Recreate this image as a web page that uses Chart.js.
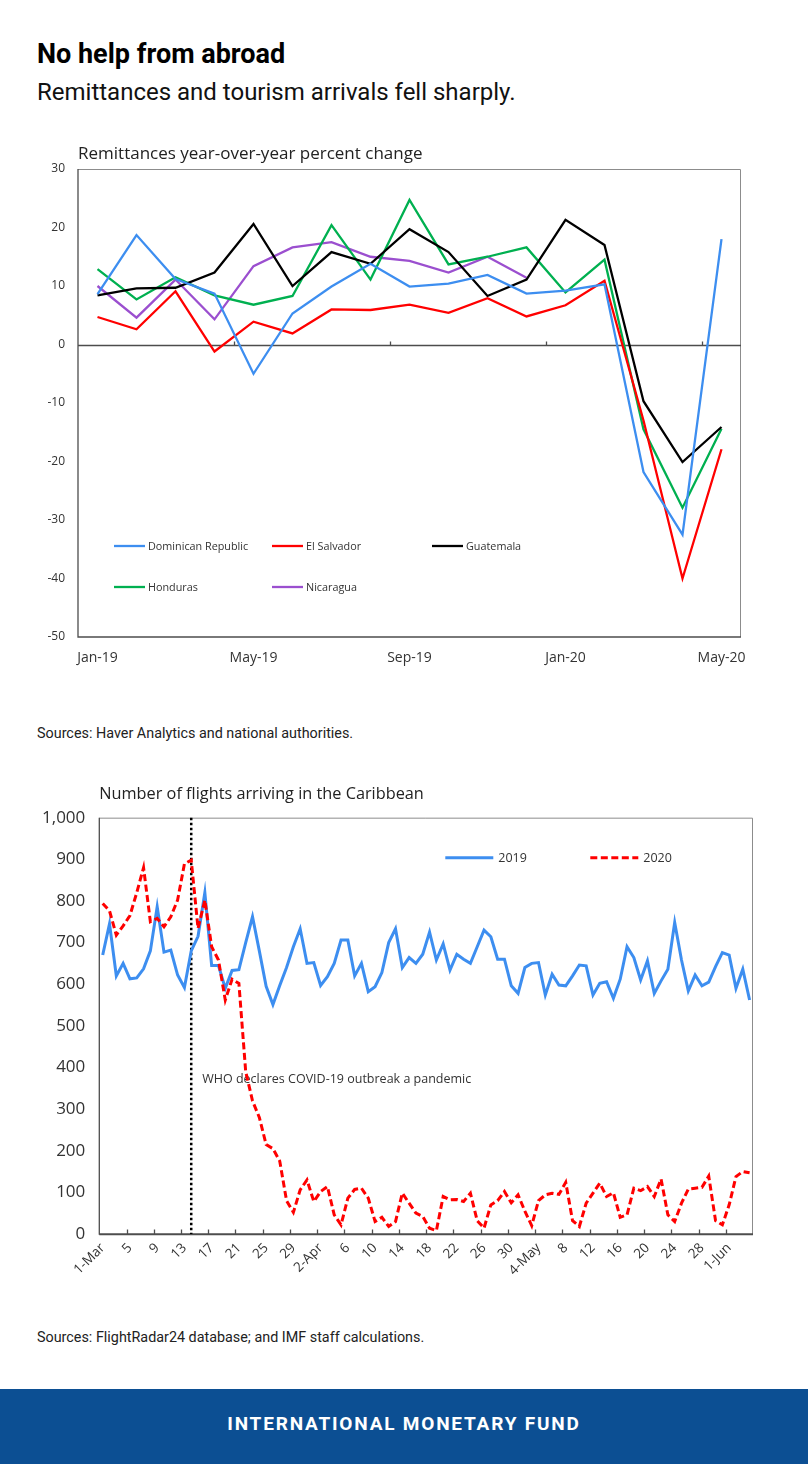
<!DOCTYPE html>
<html>
<head>
<meta charset="utf-8">
<title>No help from abroad</title>
<script src="https://cdn.jsdelivr.net/npm/chart.js@4.4.1/dist/chart.umd.min.js"></script>
<style>
  body { margin: 0; background: #fff; }
  #page { position: relative; width: 808px; height: 1464px; overflow: hidden; font-family: Roboto, sans-serif; }
  .hed { position: absolute; left: 37px; top: 41px; font: 700 27px/1 Roboto, sans-serif; color: #000; white-space: nowrap; }
  .dek { position: absolute; left: 37px; top: 80px; font: 400 24px/1 Roboto, sans-serif; color: #111; white-space: nowrap; }
  .src { position: absolute; left: 37px; font: 15.5px/20px Roboto, sans-serif; color: #222; white-space: nowrap; transform-origin: 0 50%; }
  #chart1 { position: absolute; left: 0; top: 130px; }
  #chart2 { position: absolute; left: 0; top: 770px; }
  .band { position: absolute; left: 0; top: 1389px; width: 808px; height: 75px; background: #0c4f93; }
  .band span { position: absolute; left: 0; width: 808px; top: 25px; text-align: center; color: #fff; font: 700 19px/1 Roboto, sans-serif; letter-spacing: 1.8px; }
</style>
</head>
<body>
<div id="page">
  <div class="hed">No help from abroad</div>
  <div class="dek">Remittances and tourism arrivals fell sharply.</div>
  <canvas id="chart1" width="808" height="560"></canvas>
  <div class="src" id="src1" style="top:723px">Sources: Haver Analytics and national authorities.</div>
  <canvas id="chart2" width="808" height="540"></canvas>
  <div class="src" id="src2" style="top:1327px">Sources: FlightRadar24 database; and IMF staff calculations.</div>
  <div class="band"><span>INTERNATIONAL MONETARY FUND</span></div>
</div>
<script>
// --- remittances, y/y percent change
const months = ['Jan-19', 'Feb-19', 'Mar-19', 'Apr-19', 'May-19', 'Jun-19', 'Jul-19', 'Aug-19', 'Sep-19',
  'Oct-19', 'Nov-19', 'Dec-19', 'Jan-20', 'Feb-20', 'Mar-20', 'Apr-20', 'May-20'];
const dominicanRepublic = [8.6, 18.7, 11.2, 8.7, -5.0, 5.3, 9.9, 13.8, 9.9, 10.4, 11.9, 8.7, 9.2, 10.3, -21.8, -32.5, 18.0];
const elSalvador = [4.7, 2.6, 9.1, -1.2, 3.9, 1.9, 6.0, 5.9, 6.8, 5.4, 7.9, 4.8, 6.7, 10.9, -13.0, -40.0, -17.9];
const guatemala = [8.4, 9.6, 9.7, 12.3, 20.6, 10.0, 15.8, 13.8, 19.7, 15.8, 8.3, 11.1, 21.3, 17.0, -9.7, -20.1, -14.1];
const honduras = [12.9, 7.7, 11.5, 8.4, 6.8, 8.3, 20.4, 11.1, 24.7, 13.7, 15.0, 16.6, 8.9, 14.5, -14.5, -27.9, -14.4];
const nicaragua = [10.0, 4.6, 11.1, 4.3, 13.4, 16.6, 17.5, 15.0, 14.3, 12.3, 15.0, 11.4, null, null, null, null, null];
const remitMin = -50, remitMax = 30, remitStep = 10;

// --- daily flights arriving in the Caribbean, 1 Mar - 4 Jun
const flightMonths = [['Mar', 31], ['Apr', 30], ['May', 31], ['Jun', 4]];
const flightDates = [];
flightMonths.forEach(([m, n]) => { for (let d = 1; d <= n; d++) flightDates.push(d + '-' + m); });
const flights2019 = [
  670, 745, 620, 650, 613, 615, 637, 680, 786, 677, 682, 622, 592, 680, 715, 820, 645, 645, 590, 633,
  635, 700, 762, 680, 595, 551, 597, 640, 690, 733, 650, 652, 597, 618, 650, 706, 706, 620, 650, 582,
  594, 628, 700, 733, 640, 664, 650, 672, 725, 658, 697, 634, 672, 660, 650, 690, 730, 714, 660, 660,
  596, 578, 640, 650, 652, 574, 624, 598, 596, 620, 646, 644, 574, 602, 606, 566, 612, 690, 664, 610,
  656, 578, 608, 636, 748, 658, 584, 622, 596, 605, 642, 676, 670, 590, 636, 562];
const flights2020 = [
  794, 776, 718, 740, 765, 820, 880, 750, 758, 738, 762, 802, 889, 898, 734, 802, 690, 658, 562, 612,
  602, 390, 320, 280, 215, 205, 175, 80, 52, 106, 130, 78, 102, 114, 46, 22, 86, 107, 110, 86,
  30, 40, 18, 30, 98, 74, 50, 42, 14, 8, 90, 82, 83, 78, 98, 32, 14, 70, 80, 102,
  75, 94, 55, 20, 80, 94, 98, 95, 124, 32, 18, 74, 98, 122, 90, 99, 40, 46, 110, 104,
  114, 90, 132, 46, 30, 74, 108, 110, 112, 139, 32, 22, 70, 138, 150, 147];
const whoIndex = 13;
const whoText = 'WHO declares COVID-19 outbreak a pandemic';

// squeeze the source notes to the narrow width of the original
[['src1', 316], ['src2', 387]].forEach(([id, w]) => {
  const el = document.getElementById(id);
  el.style.transform = 'scaleX(' + (w / el.offsetWidth) + ')';
});

Chart.defaults.font.family = "'Open Sans', sans-serif";
Chart.defaults.color = '#333';

// box round the plot, axis line and Excel-style tick marks between categories
const framePlugin = {
  id: 'frame',
  beforeDatasetsDraw(chart, args, opts) {
    const {ctx, chartArea: a, scales: {x, y}} = chart;
    ctx.save();
    ctx.lineWidth = 1;
    ctx.strokeStyle = opts.boxColor;
    ctx.beginPath();
    ctx.moveTo(a.left, a.top + 0.5); ctx.lineTo(a.right - 0.5, a.top + 0.5); ctx.lineTo(a.right - 0.5, a.bottom);
    ctx.stroke();
    ctx.strokeStyle = opts.axisColor;
    ctx.lineWidth = 1.3;
    ctx.beginPath();
    ctx.moveTo(a.left, a.top); ctx.lineTo(a.left, a.bottom); ctx.lineTo(a.right, a.bottom);
    const axisY = Math.round(y.getPixelForValue(opts.axisValue)) + 0.5;
    ctx.moveTo(a.left, axisY); ctx.lineTo(a.right, axisY);
    const half = (x.getPixelForValue(1) - x.getPixelForValue(0)) / 2;
    for (let i = opts.tickEvery; i < chart.data.labels.length; i += opts.tickEvery) {
      const px = Math.round(x.getPixelForValue(i) - half) + 0.5;
      ctx.moveTo(px, axisY); ctx.lineTo(px, axisY - opts.tickLength);
    }
    ctx.stroke();
    ctx.restore();
  }
};

const insideLegend = {
  id: 'insideLegend',
  afterDatasetsDraw(chart, args, opts) {
    const {ctx, chartArea: a} = chart;
    ctx.save();
    opts.items.forEach(item => {
      const ds = chart.data.datasets[item.index];
      const x0 = a.left + item.dx, y0 = a.top + item.dy;
      ctx.strokeStyle = ds.borderColor;
      ctx.lineWidth = ds.borderWidth;
      ctx.setLineDash(ds.borderDash || []);
      ctx.beginPath(); ctx.moveTo(x0, y0); ctx.lineTo(x0 + opts.lineLength, y0); ctx.stroke();
      ctx.setLineDash([]);
      ctx.fillStyle = opts.color;
      ctx.font = (item.size || opts.size) + "px 'Open Sans', sans-serif";
      ctx.textBaseline = 'middle';
      ctx.fillText(ds.label, x0 + opts.lineLength + opts.gap, y0 + 1);
    });
    ctx.restore();
  }
};

const whoMarker = {
  id: 'whoMarker',
  beforeDatasetsDraw(chart, args, opts) {
    const {ctx, chartArea: a, scales: {x}} = chart;
    const px = x.getPixelForValue(opts.index);
    ctx.save();
    ctx.strokeStyle = '#000';
    ctx.lineWidth = 2.5;
    ctx.setLineDash([2.5, 2.5]);
    ctx.beginPath(); ctx.moveTo(px, a.top); ctx.lineTo(px, a.bottom); ctx.stroke();
    ctx.setLineDash([]);
    ctx.fillStyle = '#333';
    ctx.font = "12.5px 'Open Sans', sans-serif";
    ctx.textBaseline = 'middle';
    ctx.fillText(opts.text, px + 11, a.top + opts.dy);
    ctx.restore();
  }
};

function line(label, data, color, extra) {
  return Object.assign({
    label: label, data: data, borderColor: color, backgroundColor: color,
    borderWidth: 2.3, pointRadius: 0, tension: 0, fill: false, spanGaps: false
  }, extra || {});
}

new Chart(document.getElementById('chart1'), {
  type: 'line',
  data: {
    labels: months,
    datasets: [
      line('Dominican Republic', dominicanRepublic, '#3d8ef0'),
      line('El Salvador', elSalvador, '#ff0000'),
      line('Guatemala', guatemala, '#000000'),
      line('Honduras', honduras, '#00b050'),
      line('Nicaragua', nicaragua, '#9b4fcf')
    ]
  },
  options: {
    responsive: false,
    animation: false,
    devicePixelRatio: 1,
    layout: {padding: {left: 0, right: 67, top: 0, bottom: 0}},
    scales: {
      x: {
        type: 'category', offset: true,
        grid: {display: false, drawTicks: false}, border: {display: false},
        ticks: {autoSkip: false, maxRotation: 0, padding: 13, font: {size: 14},
          callback: (v, i) => i % 4 === 0 ? months[i] : ''},
        afterFit: s => { s.height = 53; }
      },
      y: {
        min: remitMin, max: remitMax,
        grid: {display: false, drawTicks: false}, border: {display: false},
        ticks: {stepSize: remitStep, padding: 13, font: {size: 12}},
        afterFit: s => { s.width = 78; }
      }
    },
    plugins: {
      legend: {display: false},
      tooltip: {enabled: false},
      title: {display: true, text: 'Remittances year-over-year percent change', align: 'start',
        fullSize: false, color: '#222', font: {size: 17, weight: 'normal'}, padding: {top: 14, bottom: 4.6}},
      frame: {boxColor: '#8c8c8c', axisColor: '#4d4d4d', axisValue: 0, tickEvery: 4, tickLength: 4},
      insideLegend: {lineLength: 31, gap: 3, size: 10.8, color: '#333', items: [
        {index: 0, dx: 36, dy: 377}, {index: 1, dx: 194, dy: 377}, {index: 2, dx: 354, dy: 377},
        {index: 3, dx: 36, dy: 418}, {index: 4, dx: 194, dy: 418}]}
    }
  },
  plugins: [framePlugin, insideLegend]
});

function dateTick(i) {
  if (i % 4 !== 0) return '';
  const [d, m] = flightDates[i].split('-');
  if (i === 0 || flightDates[i - 4].split('-')[1] !== m) return flightDates[i];
  return d;
}

new Chart(document.getElementById('chart2'), {
  type: 'line',
  data: {
    labels: flightDates,
    datasets: [
      line('2019', flights2019, '#3d8ef0', {borderWidth: 3, order: 1}),
      line('2020', flights2020, '#ff0000', {borderWidth: 3, borderDash: [7, 3.5], order: 0})
    ]
  },
  options: {
    responsive: false,
    animation: false,
    devicePixelRatio: 1,
    layout: {padding: {left: 0, right: 55, top: 0, bottom: 0}},
    scales: {
      x: {
        type: 'category', offset: true,
        grid: {display: false, drawTicks: false}, border: {display: false},
        ticks: {autoSkip: false, minRotation: 45, maxRotation: 45, padding: 6, font: {size: 13.5},
          callback: (v, i) => dateTick(i)},
        afterFit: s => { s.height = 76; }
      },
      y: {
        min: 0, max: 1000,
        grid: {display: false, drawTicks: false}, border: {display: false},
        ticks: {stepSize: 100, padding: 14, font: {size: 17}},
        afterFit: s => { s.width = 99.3; }
      }
    },
    plugins: {
      legend: {display: false},
      tooltip: {enabled: false},
      title: {display: true, text: 'Number of flights arriving in the Caribbean', align: 'start',
        fullSize: false, color: '#222', font: {size: 16.3, weight: 'normal'}, padding: {top: 15, bottom: 13.1}},
      frame: {boxColor: '#8c8c8c', axisColor: '#4d4d4d', axisValue: 0, tickEvery: 4, tickLength: 5},
      whoMarker: {index: whoIndex, text: whoText, dy: 262},
      insideLegend: {lineLength: 48, gap: 5, size: 12.5, color: '#333', items: [
        {index: 0, dx: 346, dy: 40}, {index: 1, dx: 491, dy: 40}]}
    }
  },
  plugins: [framePlugin, whoMarker, insideLegend]
});
</script>
</body>
</html>
